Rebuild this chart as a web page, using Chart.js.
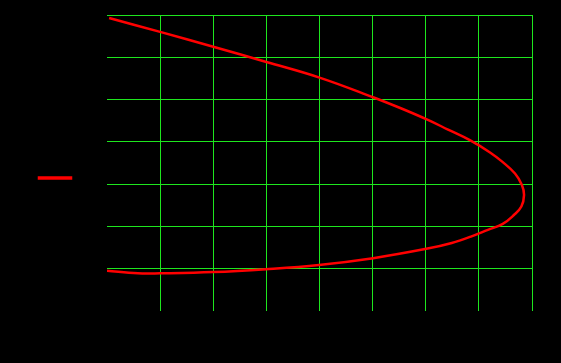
<!DOCTYPE html>
<html>
<head>
<meta charset="utf-8">
<script src="https://cdn.jsdelivr.net/npm/chart.js@4"></script>
<style>
  html, body { margin: 0; padding: 0; background: #000; }
  #wrap { width: 561px; height: 363px; }
</style>
</head>
<body>
<div id="wrap"><canvas id="chart" width="561" height="363"></canvas></div>
<script>
// curve, in plot units (x 0..8, y 0..7)
const xValues = [0.04, 1.0, 2.0, 3.0, 4.0, 5.02, 5.52, 6.02, 6.42, 6.83, 7.21, 7.45, 7.68, 7.81, 7.85,
                 7.80, 7.66, 7.45, 7.17, 6.85, 6.49, 6.01, 5.01, 3.99, 2.99, 2.0, 1.0, 0.58, 0.0];
const yValues = [6.93, 6.6, 6.25, 5.89, 5.52, 5.05, 4.80, 4.53, 4.29, 4.04, 3.75, 3.52, 3.25, 2.98, 2.74,
                 2.47, 2.27, 2.06, 1.92, 1.76, 1.61, 1.47, 1.25, 1.09, 0.99, 0.92, 0.89, 0.89, 0.95];
const xTicks = [0, 1, 2, 3, 4, 5, 6, 7, 8];
const yTicks = [0, 1, 2, 3, 4, 5, 6, 7];
const seriesName = 'y';

const gridGreen = '#1ee61e';

const points = xValues.map((x, i) => ({ x: x, y: yValues[i] }));

new Chart(document.getElementById('chart'), {
    type: 'scatter',
    data: {
        datasets: [{
            label: seriesName,
            data: points,
            showLine: true,
            borderColor: '#ff0000',
            backgroundColor: '#ff0000',
            borderWidth: 2.5,
            pointRadius: 0,
            tension: 0.4
        }]
    },
    options: {
        responsive: false,
        animation: false,
        layout: { padding: { left: 29, right: 29, top: 15, bottom: 22 } },
        plugins: {
            legend: {
                position: 'left',
                labels: {
                    boxWidth: 32,
                    boxHeight: 1,
                    padding: 10,
                    color: '#000',
                    font: { size: 12 }
                }
            },
            tooltip: { enabled: false }
        },
        scales: {
            x: {
                type: 'linear',
                min: 0,
                max: 8,
                afterBuildTicks: (s) => { s.ticks = xTicks.map(v => ({ value: v })); },
                afterFit: (s) => { s.height = 30; },
                border: { display: false },
                grid: {
                    drawTicks: false,
                    color: (c) => c.tick && c.tick.value === 0 ? 'rgba(0,0,0,0)' : gridGreen
                },
                ticks: { color: '#000' }
            },
            y: {
                type: 'linear',
                min: 0,
                max: 7,
                afterBuildTicks: (s) => { s.ticks = yTicks.map(v => ({ value: v })); },
                afterFit: (s) => { s.width = 14; },
                border: { display: false },
                grid: {
                    drawTicks: false,
                    color: (c) => c.tick && c.tick.value === 0 ? 'rgba(0,0,0,0)' : gridGreen
                },
                ticks: { color: '#000' }
            }
        }
    }
});
</script>
</body>
</html>
